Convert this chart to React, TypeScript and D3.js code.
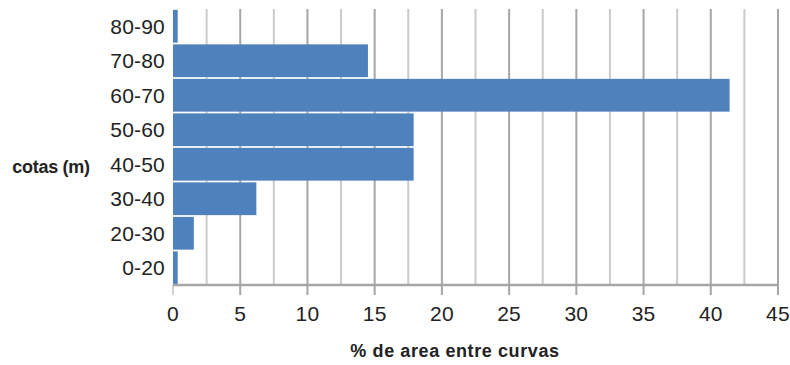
import React from "react";
import * as d3 from "d3";

// Elevation bands (m) and share of area between contour lines (%)
const categories = ["80-90", "70-80", "60-70", "50-60", "40-50", "30-40", "20-30", "0-20"];
const values = [0.35, 14.5, 41.4, 17.9, 17.9, 6.2, 1.55, 0.35];
const xTicks = [0, 5, 10, 15, 20, 25, 30, 35, 40, 45];
const minorTicks = [2.5, 7.5, 12.5, 17.5, 22.5, 27.5, 32.5, 37.5, 42.5];
const xTitle = "% de area entre curvas";
const yTitle = "cotas (m)";

const W = 790;
const H = 365;
const left = 173;
const right = 778;
const top = 9;
const bottom = 285;

export default function App() {
  const x = d3.scaleLinear().domain([0, 45]).range([left, right]);
  const y = d3.scaleBand<string>().domain(categories).range([top, bottom]).paddingInner(0.05).paddingOuter(0.025);
  const font = "'Liberation Sans', Arial, sans-serif";

  return (
    <svg
      width={W}
      height={H}
      style={{ position: "absolute", left: 0, top: 0, background: "#fff" }}
      fontFamily={font}
    >
      {/* minor gridlines */}
      {minorTicks.map((t) => (
        <line key={"m" + t} x1={x(t)} x2={x(t)} y1={top} y2={bottom} stroke="#cacaca" strokeWidth={2} />
      ))}
      {/* major gridlines with ticks below the axis */}
      {xTicks.map((t) => (
        <line
          key={"g" + t}
          x1={x(t)}
          x2={x(t)}
          y1={t === 0 ? bottom : top}
          y2={bottom + 10}
          stroke={t === 0 ? "#d0d0d0" : "#a6a6a6"}
          strokeWidth={2}
        />
      ))}
      {/* bars */}
      {categories.map((c, i) => (
        <rect
          key={c}
          x={x(0)}
          y={y(c)}
          width={x(values[i]) - x(0)}
          height={y.bandwidth()}
          fill="#4f81bd"
        />
      ))}
      {/* x axis line */}
      <line x1={x(0)} x2={x(45)} y1={bottom} y2={bottom} stroke="#a6a6a6" strokeWidth={2.5} />
      {/* y category labels */}
      {categories.map((c) => (
        <text
          key={"l" + c}
          x={165}
          y={(y(c) as number) + y.bandwidth() / 2}
          dy="0.36em"
          textAnchor="end"
          fontSize={21}
          letterSpacing={0.2}
          fill="#222"
        >
          {c}
        </text>
      ))}
      {/* x tick labels */}
      {xTicks.map((t) => (
        <text key={"t" + t} x={x(t)} y={320.5} textAnchor="middle" fontSize={21} letterSpacing={0.2} fill="#222">
          {t}
        </text>
      ))}
      {/* axis titles */}
      <text x={455} y={357} textAnchor="middle" fontSize={18} fontWeight="bold" letterSpacing={0.6} fill="#222">
        {xTitle}
      </text>
      <text x={51} y={173} textAnchor="middle" fontSize={18} fontWeight="bold" letterSpacing={-0.3} fill="#222">
        {yTitle}
      </text>
    </svg>
  );
}
